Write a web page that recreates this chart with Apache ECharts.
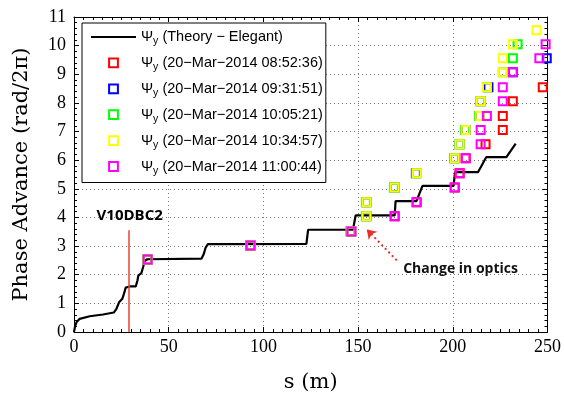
<!DOCTYPE html>
<html><head><meta charset="utf-8">
<script src="https://cdn.jsdelivr.net/npm/echarts@6/dist/echarts.min.js"></script>
<style>html,body{margin:0;padding:0;background:#fff}#c{width:564px;height:399px}</style>
</head><body><div id="c"></div>
<script>
// ---- data ----
const theoryName = '(Theory \u2212 Elegant)';
const theoryS = [0, 0.5, 1.3, 3, 8.3, 15.3, 21, 22.4, 23.8, 25.5, 26.4, 27.3, 29.4, 32.6, 33.5, 34, 35.6, 36.5, 37.3, 38.7, 67.3, 68.5, 69.5, 70.7, 122.7, 123.6, 147.3, 148.7, 169.3, 169.8, 180.8, 184.0, 200.4, 201.2, 213.3, 217.7, 228.3, 233.2];
const theoryY = [0, 0.18, 0.34, 0.46, 0.55, 0.61, 0.68, 0.81, 1.04, 1.16, 1.34, 1.55, 1.59, 1.59, 1.80, 1.98, 2.06, 2.27, 2.48, 2.54, 2.56, 2.72, 2.95, 3.07, 3.08, 3.57, 3.57, 4.07, 4.07, 4.57, 4.57, 5.10, 5.10, 5.58, 5.58, 6.11, 6.11, 6.58];

const measNames = ['(20\u2212Mar\u22122014 08:52:36)', '(20\u2212Mar\u22122014 09:31:51)', '(20\u2212Mar\u22122014 10:05:21)', '(20\u2212Mar\u22122014 10:34:57)', '(20\u2212Mar\u22122014 11:00:44)'];
const measColors = ['#ff0000', '#0000ff', '#00ff00', '#ffff00', '#ff00ff'];

const redS = [38.9, 93.2, 146.4, 169.3, 180.9, 201.0, 203.6, 206.8, 217.3, 226.4, 226.4, 231.7, 247.5];
const redY = [2.53, 3.02, 3.51, 4.04, 4.53, 5.05, 5.54, 6.07, 6.56, 7.05, 7.54, 8.06, 8.55];
const blueS = [38.9, 93.2, 146.4, 154.5, 154.5, 169.3, 180.5, 201.0, 203.6, 206.8, 214.2, 214.7, 218.8, 231.7, 249.6];
const blueY = [2.53, 3.02, 3.51, 4.04, 4.53, 5.05, 5.54, 6.07, 6.56, 7.05, 7.54, 8.06, 8.55, 9.07, 9.56];
const greenS = [38.9, 93.2, 145.9, 154.1, 154.1, 168.9, 180.9, 200.6, 203.6, 206.4, 213.8, 214.7, 218.0, 226.4, 231.7, 234.2];
const greenY = [2.53, 3.02, 3.51, 4.04, 4.53, 5.05, 5.54, 6.07, 6.56, 7.05, 7.54, 8.06, 8.55, 9.07, 9.56, 10.05];
const yellowS = [38.9, 93.2, 146.4, 154.5, 154.5, 169.3, 180.9, 201.0, 203.6, 206.8, 214.2, 214.7, 218.0, 226.4, 226.4, 231.7, 244.2];
const yellowY = [2.53, 3.02, 3.51, 4.04, 4.53, 5.05, 5.54, 6.07, 6.56, 7.05, 7.54, 8.06, 8.55, 9.07, 9.56, 10.05, 10.54];
const magentaS = [38.9, 93.2, 146.4, 169.3, 180.9, 201.0, 203.6, 206.8, 214.7, 214.7, 218.0, 226.4, 226.4, 231.7, 245.7, 249.0];
const magentaY = [2.53, 3.02, 3.51, 4.04, 4.53, 5.05, 5.54, 6.07, 6.56, 7.05, 7.54, 8.06, 8.55, 9.07, 9.56, 10.05];

const xTicks = [0, 50, 100, 150, 200, 250];
const yTicks = [0, 1, 2, 3, 4, 5, 6, 7, 8, 9, 10, 11];

const markerS = 28.9, markerTop = 3.55;          // V10DBC2 location
const v10Label = 'V10DBC2', v10At = [29.4, 4.07];
const opticsLabel = 'Change in optics', opticsAt = [204.1, 2.19];
const arrowFrom = [170.4, 2.50], arrowTo = [154.6, 3.58];

// ---- build ----
const zip = (a, b) => a.map((v, i) => [v, b[i]]);
const measS = [redS, blueS, greenS, yellowS, magentaS];
const measY = [redY, blueY, greenY, yellowY, magentaY];

const serif = 'Liberation Serif';
const labelSerif = 'DejaVu Serif';
const sans = 'Liberation Sans';

const axisCommon = {
  type: 'value',
  axisLine: { show: true, onZero: false, lineStyle: { color: '#000', width: 1 } },
  axisTick: { show: true, inside: true, length: 5, lineStyle: { color: '#000' } },
};

const chart = echarts.init(document.getElementById('c'), null, { renderer: 'canvas' });

const series = [{
  name: theoryName, type: 'line', data: zip(theoryS, theoryY),
  symbol: 'none', lineStyle: { color: '#000', width: 2.2 }, itemStyle: { color: '#000' },
  z: 2, silent: true,
  markLine: {
    silent: true, symbol: ['none', 'none'], label: { show: false },
    lineStyle: { color: '#e8452c', width: 1.5, type: 'solid' },
    data: [[{ coord: [markerS, 0] }, { coord: [markerS, markerTop] }],
      [{ coord: arrowFrom, symbol: 'none', lineStyle: { type: [2, 3], width: 2, color: '#e8302a' } },
       { coord: arrowTo, symbol: 'arrow', symbolSize: 9 }]]
  }
}];
measNames.forEach((n, i) => {
  series.push({
    name: n, type: 'line', data: zip(measS[i], measY[i]),
    symbol: 'rect', symbolSize: 8, showSymbol: true, showAllSymbol: true,
    lineStyle: { width: 0, opacity: 0 },
    itemStyle: { color: 'rgba(0,0,0,0)', borderColor: measColors[i], borderWidth: 2 },
    emphasis: { disabled: true }, silent: true, z: 3
  });
});

chart.setOption({
  animation: false,
  backgroundColor: '#fff',
  grid: { left: 74, top: 17, width: 474, height: 315, containLabel: false },
  xAxis: [
    Object.assign({}, axisCommon, {
      min: 0, max: 250, interval: 50, position: 'bottom',
      minorTick: { show: true, splitNumber: 10, length: 3, lineStyle: { color: '#000' } },
      splitLine: { show: true, lineStyle: { color: '#777', type: [1, 3], width: 1 } },
      axisLabel: { fontFamily: serif, fontSize: 18, color: '#000', margin: 6,
        formatter: v => xTicks.includes(v) ? String(v) : '' },
      name: 's (m)', nameLocation: 'middle', nameGap: 40,
      nameTextStyle: { fontFamily: labelSerif, fontSize: 21, color: '#000' }
    }),
    Object.assign({}, axisCommon, {
      min: 0, max: 250, interval: 50, position: 'top',
      minorTick: { show: true, splitNumber: 10, length: 3, lineStyle: { color: '#000' } },
      splitLine: { show: false }, axisLabel: { show: false }
    })
  ],
  yAxis: [
    Object.assign({}, axisCommon, {
      min: 0, max: 11, interval: 1, position: 'left',
      minorTick: { show: true, splitNumber: 5, length: 3, lineStyle: { color: '#000' } },
      splitLine: { show: true, lineStyle: { color: '#777', type: [1, 3], width: 1 } },
      axisLabel: { fontFamily: serif, fontSize: 18, color: '#000', margin: 8,
        formatter: v => yTicks.includes(v) ? String(v) : '' },
      name: 'Phase Advance (rad/2\u03c0)', nameLocation: 'middle', nameGap: 42,
      nameTextStyle: { fontFamily: labelSerif, fontSize: 21, color: '#000' }
    }),
    Object.assign({}, axisCommon, {
      min: 0, max: 11, interval: 1, position: 'right',
      minorTick: { show: true, splitNumber: 5, length: 3, lineStyle: { color: '#000' } },
      splitLine: { show: false }, axisLabel: { show: false }
    })
  ],
  legend: {
    orient: 'vertical', left: 82, top: 23, z: 10,
    padding: [6.5, 3, 6, 8], itemGap: 8.4, itemWidth: 45, itemHeight: 11, itemTextGap: 5,
    backgroundColor: '#fff', borderColor: '#000', borderWidth: 1, borderRadius: 0,
    selectedMode: false,
    data: [{ name: theoryName, itemStyle: { opacity: 0 } }].concat(measNames.map(n => ({ name: n }))),
    formatter: n => '{a|\u03a8}{s|y}{a| ' + n + '}',
    textStyle: {
      fontFamily: sans, fontSize: 14.5, color: '#000',
      rich: {
        a: { fontFamily: sans, fontSize: 14.5, lineHeight: 20, color: '#000' },
        s: { fontFamily: sans, fontSize: 10.5, lineHeight: 10, verticalAlign: 'bottom', color: '#000' }
      }
    }
  },
  series: series
});

const pV = chart.convertToPixel({ xAxisIndex: 0, yAxisIndex: 0 }, v10At);
const pO = chart.convertToPixel({ xAxisIndex: 0, yAxisIndex: 0 }, opticsAt);
chart.setOption({
  graphic: [
    { type: 'text', x: pV[0], y: pV[1], z: 20,
      style: { text: v10Label, align: 'center', verticalAlign: 'middle', font: 'bold 15px "Open Sans"', fill: '#000' } },
    { type: 'text', x: pO[0], y: pO[1], z: 20,
      style: { text: opticsLabel, align: 'center', verticalAlign: 'middle', font: 'bold 14px "Open Sans"', fill: '#111' } }
  ]
});
</script>
</body></html>
